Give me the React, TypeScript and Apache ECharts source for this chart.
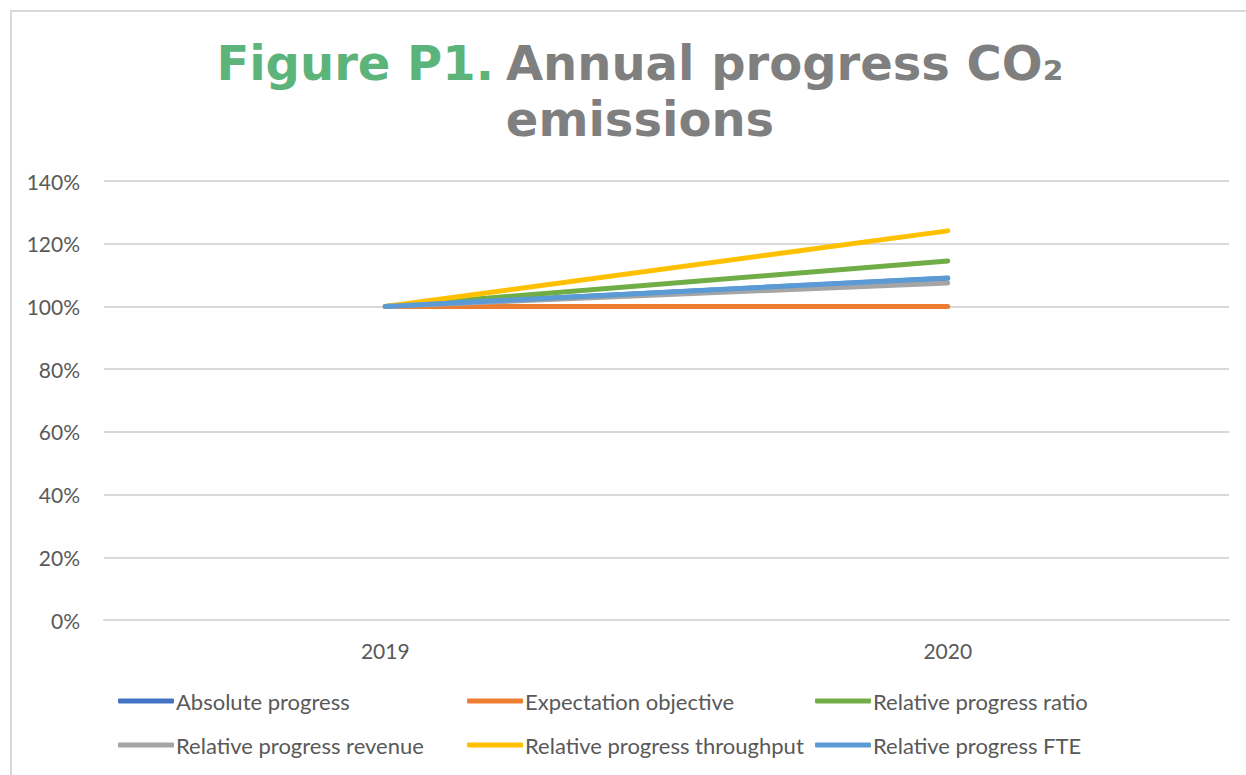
import React, { useEffect, useRef } from "react";
import * as echarts from "echarts";

const categories = ["2019", "2020"];
const seriesNames = [
  "Absolute progress",
  "Expectation objective",
  "Relative progress ratio",
  "Relative progress revenue",
  "Relative progress throughput",
  "Relative progress FTE",
];
const absoluteProgress = [1.0, 1.09];
const expectationObjective = [1.0, 1.0];
const relativeRatio = [1.0, 1.145];
const relativeRevenue = [1.0, 1.075];
const relativeThroughput = [1.0, 1.241];
const relativeFTE = [1.0, 1.091];
const seriesColors = ["#4472C4", "#ED7D31", "#70AD47", "#A5A5A5", "#FFC000", "#5B9BD5"];

export default function App() {
  const ref = useRef<HTMLDivElement>(null);
  useEffect(() => {
    if (!ref.current) return;
    const chart = echarts.init(ref.current, undefined, { renderer: "svg" });
    const values = [
      absoluteProgress,
      expectationObjective,
      relativeRatio,
      relativeRevenue,
      relativeThroughput,
      relativeFTE,
    ];
    const legendCommon = {
      orient: "vertical" as const,
      top: 690,
      itemWidth: 56,
      itemHeight: 5,
      itemGap: 22,
      icon: "roundRect",
      textStyle: { fontFamily: "Lato", fontSize: 22, color: "#595959", padding: [0, 0, 0, -3] },
      padding: 0,
    };
    chart.setOption({
      animation: false,
      backgroundColor: "#ffffff",
      graphic: [
        {
          type: "rect",
          shape: { x: 11, y: 11, width: 1400, height: 1000 },
          style: { fill: "none", stroke: "#d9d9d9", lineWidth: 2 },
          silent: true,
        },
      ],
      title: {
        left: 635,
        top: 30,
        textAlign: "center",
        text: "{g|Figure P1.}{d|Annual progress CO₂}\n{d|emissions}",
        textStyle: {
          rich: {
            g: { fontFamily: "DejaVu Sans", fontWeight: "bold", fontSize: 48, color: "#5DB47B", lineHeight: 56, padding: [0, 12, 0, 0] },
            d: { fontFamily: "DejaVu Sans", fontWeight: "bold", fontSize: 48, color: "#7F7F7F", lineHeight: 56 },
          },
        },
      },
      legend: [
        { ...legendCommon, left: 118, data: [seriesNames[0], seriesNames[3]] },
        { ...legendCommon, left: 467, data: [seriesNames[1], seriesNames[4]] },
        { ...legendCommon, left: 815, data: [seriesNames[2], seriesNames[5]] },
      ],
      grid: { left: 104, right: 17, top: 181, height: 439, containLabel: false },
      xAxis: {
        type: "category",
        data: categories,
        boundaryGap: true,
        axisLine: { lineStyle: { color: "#d9d9d9", width: 2 } },
        axisTick: { show: false },
        axisLabel: { fontFamily: "Lato", fontSize: 21, color: "#595959", margin: 20 },
      },
      yAxis: {
        type: "value",
        min: 0,
        max: 1.4,
        interval: 0.2,
        axisLine: { show: false },
        axisTick: { show: false },
        axisLabel: {
          fontFamily: "Lato",
          fontSize: 21,
          color: "#595959",
          margin: 24,
          formatter: (v: number) => `${Math.round(v * 100)}%`,
        },
        splitLine: { lineStyle: { color: "#d9d9d9", width: 2 } },
      },
      series: seriesNames.map((name, i) => ({
        name,
        type: "line",
        data: values[i],
        symbol: "none",
        color: seriesColors[i],
        lineStyle: { width: 5, color: seriesColors[i], cap: "round" },
      })),
    });
    return () => chart.dispose();
  }, []);
  return (
    <div
      ref={ref}
      style={{ position: "fixed", left: 0, top: 0, width: 1246, height: 775 }}
    />
  );
}
